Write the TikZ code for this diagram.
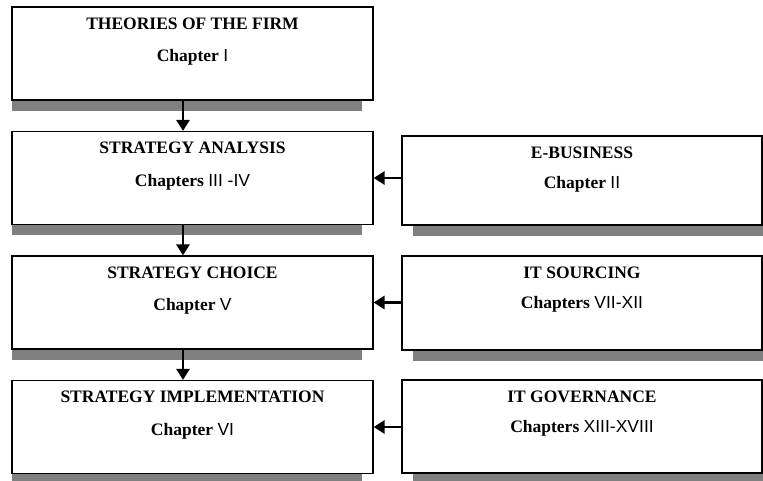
\documentclass[tikz,border=0pt]{standalone}
\usepackage{fontspec}
\setmainfont{Liberation Serif}
\newfontfamily\numfont{Liberation Sans}
\usetikzlibrary{arrows.meta}

\newcommand{\chapnum}[1]{{\numfont\mdseries #1}}

\tikzset{
  leftbox/.style={draw=black, line width=1.2pt, fill=white, rectangle,
    minimum width=361pt, minimum height=93pt, inner sep=0pt},
  rightbox/.style={draw=black, line width=1.2pt, fill=white, rectangle,
    minimum width=360pt, inner sep=0pt},
  boxshadow/.style={fill=black!50, draw=none},
  boxtitle/.style={font=\fontsize{17.5}{20}\selectfont\bfseries, inner sep=0pt, anchor=center},
  flowarrow/.style={line width=2.8pt, -{Triangle[length=11pt,width=13pt]}}
}

\begin{document}
\begin{tikzpicture}[x=1pt, y=-1pt]
  \useasboundingbox (0,0) rectangle (763,481);

  % drop shadows under the boxes
  \fill[boxshadow] (12,100) rectangle (362,111);
  \fill[boxshadow] (12,224) rectangle (362,235);
  \fill[boxshadow] (12,349) rectangle (362,360);
  \fill[boxshadow] (12,473) rectangle (362,484);
  \fill[boxshadow] (413,225) rectangle (763,236);
  \fill[boxshadow] (413,350) rectangle (763,361);
  \fill[boxshadow] (413,473) rectangle (763,484);

  % main column
  \node[leftbox] (b1) at (192.5,53.5) {};
  \node[leftbox] (b2) at (192.5,178) {};
  \node[leftbox] (b3) at (192.5,302.5) {};
  \node[leftbox] (b4) at (192.5,427) {};

  % side column
  \node[rightbox, minimum height=89pt] (r1) at (582,180.5) {};
  \node[rightbox, minimum height=94pt] (r2) at (582,303) {};
  \node[rightbox, minimum height=93pt] (r3) at (582,426.5) {};

  % box texts
  \node[boxtitle] (b1t) at ([yshift=-17pt]b1.north) {THEORIES OF THE FIRM};
  \node[boxtitle] (b1c) at ([yshift=-51pt]b1.north) {Chapter \chapnum{I}};
  \node[boxtitle] (b2t) at ([yshift=-17pt]b2.north) {STRATEGY ANALYSIS};
  \node[boxtitle] (b2c) at ([yshift=-51pt]b2.north) {Chapters \chapnum{III -IV}};
  \node[boxtitle] (b3t) at ([yshift=-17pt]b3.north) {STRATEGY CHOICE};
  \node[boxtitle] (b3c) at ([yshift=-51pt]b3.north) {Chapter \chapnum{V}};
  \node[boxtitle] (b4t) at ([yshift=-17pt]b4.north) {STRATEGY IMPLEMENTATION};
  \node[boxtitle] (b4c) at ([yshift=-51pt]b4.north) {Chapter \chapnum{VI}};

  \node[boxtitle] (r1t) at ([yshift=-17pt]r1.north) {E-BUSINESS};
  \node[boxtitle] (r1c) at ([yshift=-49pt]r1.north) {Chapter \chapnum{II}};
  \node[boxtitle] (r2t) at ([yshift=-17pt]r2.north) {IT SOURCING};
  \node[boxtitle] (r2c) at ([yshift=-49pt]r2.north) {Chapters \chapnum{VII-XII}};
  \node[boxtitle] (r3t) at ([yshift=-17pt]r3.north) {IT GOVERNANCE};
  \node[boxtitle] (r3c) at ([yshift=-49pt]r3.north) {Chapters \chapnum{XIII-XVIII}};

  % vertical flow
  \draw[flowarrow] ([xshift=-9.5pt]b1.south) -- ([xshift=-9.5pt]b2.north);
  \draw[flowarrow] ([xshift=-9.5pt]b2.south) -- ([xshift=-9.5pt]b3.north);
  \draw[flowarrow] ([xshift=-9.5pt]b3.south) -- ([xshift=-9.5pt]b4.north);

  % side inputs
  \draw[flowarrow] (r1.west |- b2.east) -- (b2.east);
  \draw[flowarrow] (r2.west |- b3.east) -- (b3.east);
  \draw[flowarrow] (r3.west |- b4.east) -- (b4.east);
\end{tikzpicture}
\end{document}
